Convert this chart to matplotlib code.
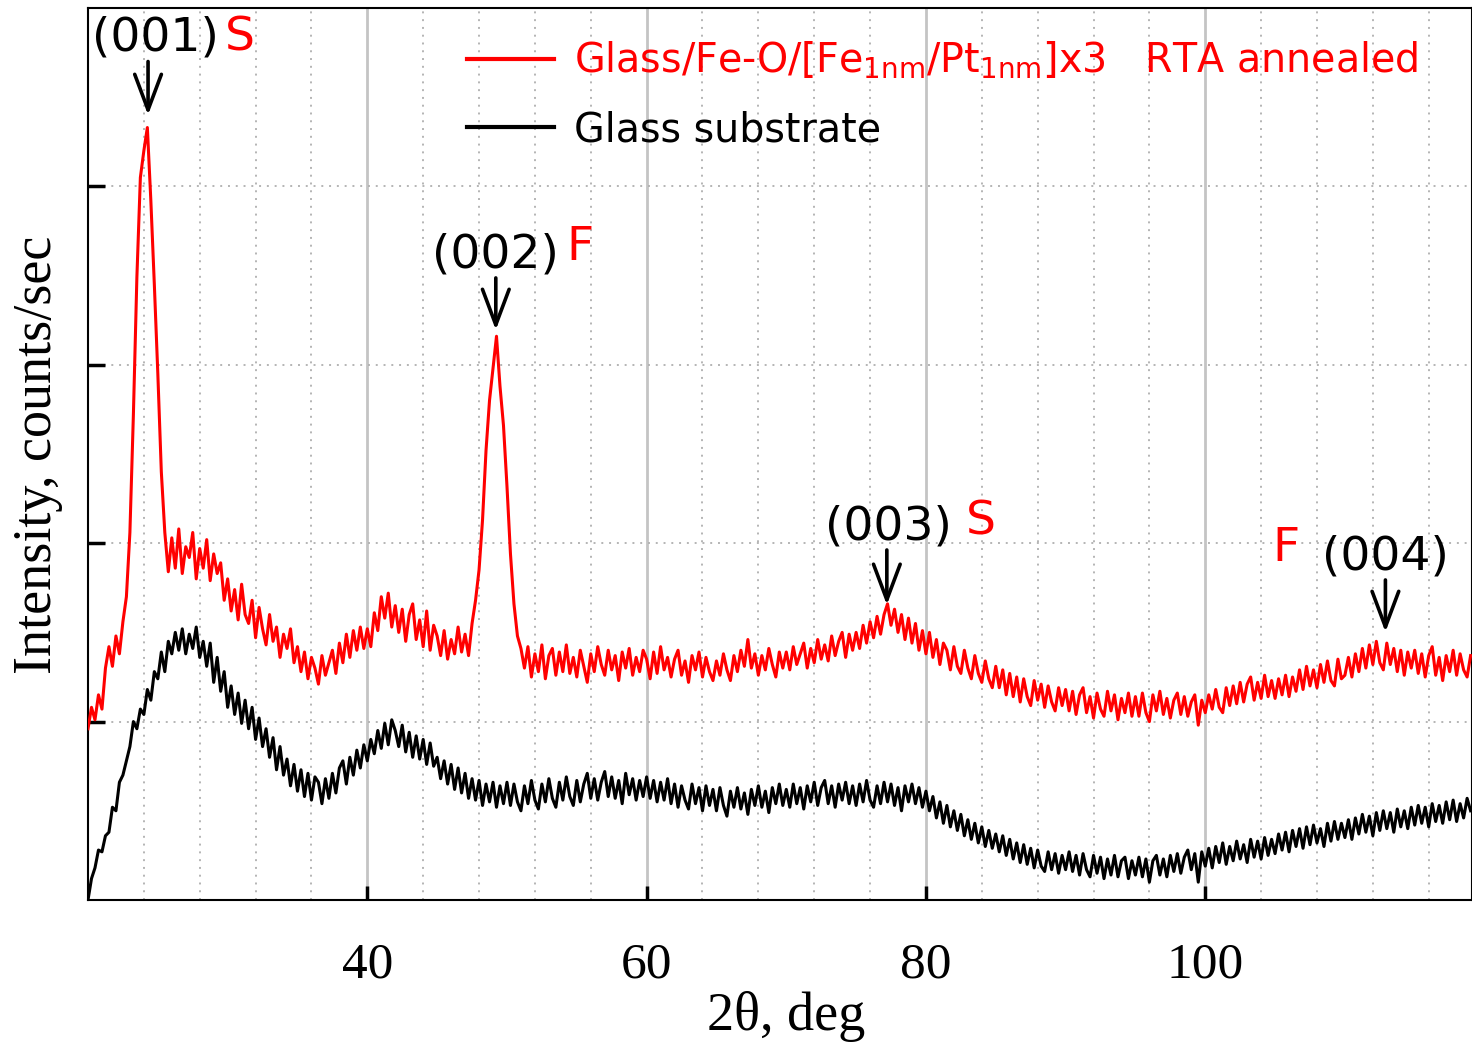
import numpy as np
import matplotlib
matplotlib.use('Agg')
import matplotlib.pyplot as plt
from matplotlib.ticker import MultipleLocator, FixedLocator, NullFormatter

# scan grid, 0.25 deg step from 20 to 119 deg
two_theta = np.arange(20.0, 119.01, 0.25)

# Glass/Fe-O/[Fe/Pt]x3, RTA annealed (arb. units), one row = 5 deg
red_counts = [
    0.96, 1.08, 1.01, 1.15, 1.07, 1.30, 1.42, 1.31, 1.48, 1.38, 1.56, 1.70, 2.06, 2.72, 3.49, 4.05, 4.20, 4.33, 3.92, 3.45,
    2.95, 2.40, 2.06, 1.84, 2.03, 1.86, 2.08, 1.83, 1.98, 1.92, 2.06, 1.80, 1.97, 1.86, 2.02, 1.79, 1.94, 1.83, 1.89, 1.68,
    1.80, 1.62, 1.74, 1.57, 1.77, 1.60, 1.55, 1.68, 1.47, 1.64, 1.52, 1.43, 1.60, 1.45, 1.53, 1.36, 1.49, 1.41, 1.52, 1.33,
    1.42, 1.28, 1.39, 1.24, 1.36, 1.30, 1.21, 1.37, 1.26, 1.33, 1.40, 1.27, 1.44, 1.33, 1.49, 1.36, 1.51, 1.40, 1.53, 1.41,
    1.52, 1.42, 1.61, 1.51, 1.70, 1.58, 1.72, 1.53, 1.65, 1.50, 1.63, 1.45, 1.60, 1.66, 1.46, 1.57, 1.42, 1.62, 1.40, 1.54,
    1.48, 1.37, 1.51, 1.35, 1.46, 1.38, 1.53, 1.39, 1.49, 1.37, 1.55, 1.68, 1.85, 2.13, 2.52, 2.80, 2.98, 3.16, 2.88, 2.66,
    2.32, 1.94, 1.66, 1.48, 1.41, 1.30, 1.42, 1.25, 1.38, 1.28, 1.43, 1.24, 1.37, 1.41, 1.26, 1.39, 1.28, 1.43, 1.27, 1.36,
    1.25, 1.40, 1.31, 1.22, 1.38, 1.28, 1.42, 1.32, 1.26, 1.40, 1.29, 1.37, 1.23, 1.39, 1.30, 1.41, 1.26, 1.36, 1.28, 1.40,
    1.35, 1.24, 1.39, 1.27, 1.42, 1.29, 1.36, 1.25, 1.35, 1.40, 1.26, 1.34, 1.22, 1.37, 1.29, 1.39, 1.25, 1.36, 1.28, 1.23,
    1.34, 1.26, 1.38, 1.29, 1.23, 1.37, 1.28, 1.40, 1.31, 1.46, 1.30, 1.38, 1.26, 1.37, 1.29, 1.41, 1.32, 1.25, 1.39, 1.30,
    1.39, 1.29, 1.42, 1.32, 1.38, 1.44, 1.30, 1.41, 1.33, 1.46, 1.35, 1.43, 1.34, 1.48, 1.37, 1.45, 1.50, 1.36, 1.49, 1.40,
    1.50, 1.41, 1.54, 1.44, 1.56, 1.47, 1.59, 1.49, 1.60, 1.66, 1.54, 1.63, 1.50, 1.60, 1.46, 1.58, 1.44, 1.55, 1.40, 1.51,
    1.38, 1.50, 1.36, 1.46, 1.32, 1.44, 1.40, 1.29, 1.42, 1.31, 1.27, 1.40, 1.30, 1.24, 1.37, 1.27, 1.22, 1.34, 1.24, 1.19,
    1.31, 1.19, 1.29, 1.15, 1.27, 1.14, 1.25, 1.11, 1.24, 1.14, 1.09, 1.23, 1.12, 1.21, 1.08, 1.20, 1.11, 1.06, 1.19, 1.09,
    1.18, 1.06, 1.17, 1.04, 1.15, 1.19, 1.05, 1.14, 1.02, 1.16, 1.07, 1.03, 1.17, 1.06, 1.15, 1.01, 1.13, 1.05, 1.16, 1.03,
    1.14, 1.03, 1.16, 1.05, 1.00, 1.15, 1.06, 1.17, 1.04, 1.13, 1.02, 1.12, 1.16, 1.04, 1.14, 1.03, 1.11, 1.15, 0.98, 1.12,
    1.05, 1.15, 1.07, 1.18, 1.08, 1.05, 1.19, 1.09, 1.20, 1.10, 1.22, 1.11, 1.21, 1.25, 1.12, 1.22, 1.13, 1.26, 1.14, 1.23,
    1.13, 1.24, 1.15, 1.26, 1.14, 1.25, 1.17, 1.29, 1.18, 1.31, 1.20, 1.29, 1.19, 1.32, 1.22, 1.34, 1.23, 1.20, 1.35, 1.24,
    1.26, 1.36, 1.25, 1.38, 1.28, 1.41, 1.30, 1.43, 1.32, 1.45, 1.33, 1.29, 1.44, 1.32, 1.41, 1.28, 1.40, 1.26, 1.39, 1.30,
    1.40, 1.27, 1.38, 1.25, 1.37, 1.42, 1.26, 1.36, 1.23, 1.37, 1.28, 1.40, 1.26, 1.38, 1.29, 1.25, 1.37,
]

# bare glass substrate
black_counts = [
    0.00, 0.12, 0.18, 0.28, 0.27, 0.36, 0.38, 0.52, 0.50, 0.66, 0.70, 0.78, 0.86, 1.00, 0.96, 1.07, 1.04, 1.18, 1.12, 1.28,
    1.24, 1.39, 1.28, 1.45, 1.38, 1.50, 1.40, 1.52, 1.38, 1.49, 1.41, 1.53, 1.36, 1.45, 1.31, 1.44, 1.22, 1.36, 1.17, 1.28,
    1.08, 1.20, 1.04, 1.16, 0.99, 1.12, 0.96, 1.08, 0.90, 1.02, 0.86, 0.96, 0.80, 0.91, 0.73, 0.86, 0.70, 0.79, 0.64, 0.76,
    0.61, 0.73, 0.58, 0.71, 0.56, 0.69, 0.66, 0.54, 0.68, 0.57, 0.71, 0.60, 0.74, 0.78, 0.65, 0.80, 0.70, 0.84, 0.74, 0.87,
    0.78, 0.90, 0.82, 0.95, 0.85, 0.99, 0.87, 1.01, 0.95, 0.86, 0.98, 0.83, 0.94, 0.80, 0.92, 0.79, 0.90, 0.76, 0.88, 0.75,
    0.80, 0.68, 0.78, 0.65, 0.76, 0.62, 0.74, 0.60, 0.71, 0.57, 0.68, 0.56, 0.67, 0.53, 0.65, 0.55, 0.66, 0.52, 0.64, 0.54,
    0.66, 0.53, 0.65, 0.55, 0.50, 0.64, 0.54, 0.67, 0.56, 0.51, 0.65, 0.55, 0.68, 0.57, 0.52, 0.66, 0.56, 0.69, 0.58, 0.53,
    0.67, 0.55, 0.65, 0.71, 0.57, 0.68, 0.56, 0.66, 0.72, 0.58, 0.69, 0.57, 0.67, 0.54, 0.71, 0.59, 0.68, 0.56, 0.67, 0.58,
    0.69, 0.57, 0.67, 0.55, 0.66, 0.56, 0.68, 0.54, 0.65, 0.52, 0.64, 0.56, 0.51, 0.65, 0.54, 0.63, 0.50, 0.64, 0.53, 0.62,
    0.50, 0.63, 0.53, 0.47, 0.61, 0.52, 0.63, 0.51, 0.60, 0.48, 0.62, 0.53, 0.64, 0.52, 0.61, 0.49, 0.63, 0.54, 0.65, 0.53,
    0.62, 0.52, 0.65, 0.54, 0.63, 0.51, 0.64, 0.55, 0.66, 0.53, 0.63, 0.67, 0.54, 0.64, 0.52, 0.65, 0.56, 0.66, 0.54, 0.64,
    0.53, 0.65, 0.55, 0.67, 0.56, 0.52, 0.64, 0.54, 0.66, 0.55, 0.65, 0.53, 0.63, 0.50, 0.64, 0.55, 0.65, 0.54, 0.63, 0.52,
    0.61, 0.50, 0.58, 0.46, 0.55, 0.43, 0.53, 0.41, 0.50, 0.39, 0.48, 0.36, 0.45, 0.34, 0.43, 0.32, 0.41, 0.30, 0.39, 0.29,
    0.37, 0.27, 0.36, 0.25, 0.34, 0.23, 0.32, 0.21, 0.31, 0.20, 0.29, 0.18, 0.28, 0.19, 0.16, 0.27, 0.17, 0.26, 0.15, 0.25,
    0.17, 0.27, 0.16, 0.25, 0.14, 0.26, 0.17, 0.13, 0.25, 0.15, 0.24, 0.12, 0.23, 0.14, 0.25, 0.13, 0.22, 0.24, 0.12, 0.22,
    0.14, 0.24, 0.13, 0.23, 0.10, 0.22, 0.25, 0.14, 0.23, 0.13, 0.25, 0.16, 0.26, 0.15, 0.24, 0.28, 0.17, 0.26, 0.10, 0.27,
    0.19, 0.29, 0.18, 0.30, 0.21, 0.32, 0.20, 0.30, 0.22, 0.33, 0.23, 0.31, 0.21, 0.34, 0.24, 0.33, 0.23, 0.35, 0.25, 0.34,
    0.26, 0.37, 0.28, 0.38, 0.27, 0.39, 0.30, 0.40, 0.29, 0.41, 0.31, 0.42, 0.32, 0.40, 0.30, 0.43, 0.33, 0.44, 0.34, 0.43,
    0.35, 0.45, 0.34, 0.46, 0.37, 0.48, 0.38, 0.47, 0.36, 0.49, 0.39, 0.50, 0.40, 0.49, 0.38, 0.51, 0.41, 0.50, 0.40, 0.52,
    0.42, 0.53, 0.43, 0.52, 0.41, 0.54, 0.44, 0.53, 0.43, 0.55, 0.45, 0.56, 0.44, 0.54, 0.46, 0.57, 0.50,
]

# reflections
peak_labels = ['(001)', '(002)', '(003)', '(004)']
peak_2theta = [24.3, 49.2, 77.2, 112.9]
peak_phase = ['S', 'F', 'S', 'F']

red_label = 'Glass/Fe-O/[Fe$_{\\rm 1nm}$/Pt$_{\\rm 1nm}$]x3   RTA annealed'
black_label = 'Glass substrate'

plt.rcParams['mathtext.fontset'] = 'dejavusans'

fig = plt.figure(figsize=(14.72, 10.44), dpi=100)
ax = fig.add_axes([88 / 1472, 1 - 900 / 1044, 1384 / 1472, 892 / 1044])

ax.plot(two_theta, black_counts, color='black', lw=2.2, label=black_label, zorder=3)
ax.plot(two_theta, red_counts, color='#ff0000', lw=2.2, label=red_label, zorder=4)

ax.set_xlim(20, 119.1)
ax.set_ylim(0, 5)

ax.xaxis.set_major_locator(FixedLocator([40, 60, 80, 100]))
ax.xaxis.set_minor_locator(MultipleLocator(4))
ax.yaxis.set_major_locator(FixedLocator([1, 2, 3, 4]))
ax.yaxis.set_major_formatter(NullFormatter())

ax.grid(which='major', axis='x', color='#c4c4c4', lw=2, ls='-', zorder=0)
ax.grid(which='minor', axis='x', color='#b4b4b4', lw=1.4, ls=(0, (1, 3)), zorder=0)
ax.grid(which='major', axis='y', color='#b4b4b4', lw=1.4, ls=(0, (1, 3)), zorder=0)
ax.set_axisbelow(True)

ax.tick_params(axis='x', which='major', direction='in', length=10, width=2.5,
               pad=30, labelsize=37)
ax.tick_params(axis='x', which='minor', length=0)
ax.tick_params(axis='y', direction='in', length=12, width=2.5)
for lab in ax.get_xticklabels():
    lab.set_fontfamily('Liberation Serif')
for sp in ax.spines.values():
    sp.set_linewidth(1.5)

fig.text(786 / 1472, 1 - 1017 / 1044, '2\u03b8, deg', ha='center', va='center',
         fontsize=39, family='Liberation Serif')
fig.text(38 / 1472, 1 - 455 / 1044, 'Intensity, counts/sec', ha='center', va='center',
         rotation=90, fontsize=39, family='Liberation Serif')

# peak markers: label text, red phase letter, arrow
label_xy = [(24.8, 4.83), (49.2, 3.615), (77.3, 2.09), (112.9, 1.923)]
phase_xy = [(30.9, 4.83), (55.2, 3.655), (83.9, 2.12), (105.8, 1.973)]
arrow_y = [(4.70, 4.40), (3.487, 3.195), (1.962, 1.654), (1.794, 1.502)]
for i in range(4):
    ax.text(*label_xy[i], peak_labels[i], ha='center', va='center', fontsize=34,
            family='DejaVu Sans', color='black', zorder=6)
    ax.text(*phase_xy[i], peak_phase[i], ha='center', va='center', fontsize=34,
            family='DejaVu Sans', color='#ff0000', zorder=6)
    ax.annotate('', xy=(peak_2theta[i], arrow_y[i][1]), xytext=(peak_2theta[i], arrow_y[i][0]),
                arrowprops=dict(arrowstyle='->, head_length=0.8, head_width=0.3', lw=2.6,
                                color='black', mutation_scale=32, shrinkA=0, shrinkB=0),
                zorder=6)

handles, labels = ax.get_legend_handles_labels()
leg = ax.legend(handles[::-1], labels[::-1], loc='upper left', bbox_to_anchor=(0.274, 0.964),
                frameon=False, fontsize=28.5, handlelength=2.2, handletextpad=0.5,
                labelspacing=0.72, borderpad=0, borderaxespad=0)
leg.get_texts()[0].set_color('#ff0000')
leg.get_texts()[1].set_color('black')
for t in leg.get_texts():
    t.set_fontfamily('DejaVu Sans')
for h in leg.legend_handles:
    h.set_linewidth(3)

fig.savefig('out.png', dpi=100)
